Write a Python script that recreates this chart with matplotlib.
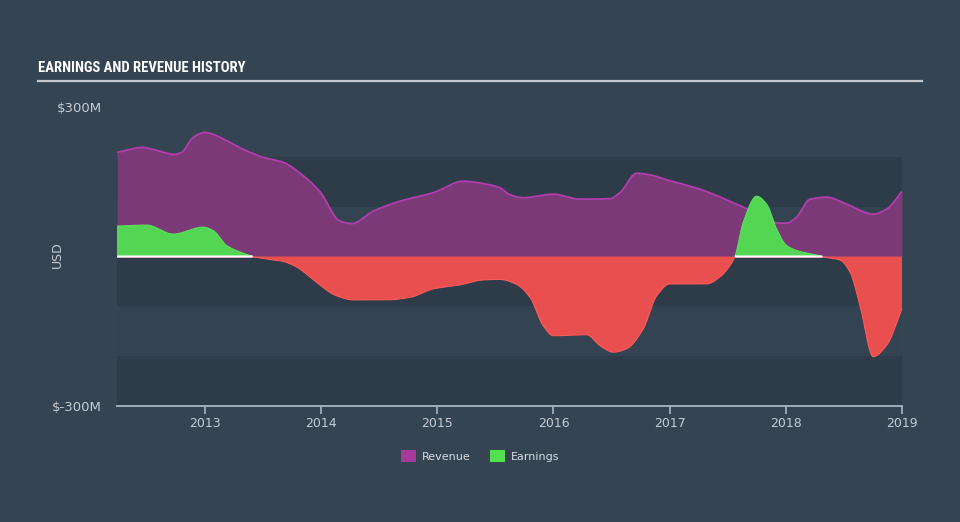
import numpy as np
import matplotlib
matplotlib.use("Agg")
import matplotlib.pyplot as plt
from matplotlib.patches import Patch

# ---------------- data (decimal years, $M) ----------------
rev_t = [2012.243, 2012.469, 2012.552, 2012.742, 2012.799, 2012.899, 2013.000, 2013.071,
         2013.215, 2013.330, 2013.502, 2013.674, 2013.846, 2013.990, 2014.162, 2014.263,
         2014.449, 2014.679, 2014.965, 2015.223, 2015.425, 2015.539, 2015.625, 2015.740,
         2015.998, 2016.228, 2016.486, 2016.572, 2016.716, 2016.802, 2017.003, 2017.261,
         2017.606, 2017.950, 2018.007, 2018.093, 2018.208, 2018.352, 2018.524, 2018.753,
         2018.868, 2019.000]
rev_v = [209, 219, 215, 205, 209, 239, 249, 245,
         229, 215, 199, 189, 162, 130, 71, 66,
         91, 111, 128, 151, 145, 138, 124, 118,
         125, 115, 116, 128, 167, 165, 152, 135,
         102, 67, 67, 79, 115, 119, 105, 85,
         95, 131]

earn_t = [2012.243, 2012.498, 2012.727, 2012.985, 2013.071, 2013.187, 2013.301, 2013.387,
          2013.413, 2013.560, 2013.674, 2013.789, 2013.904, 2013.962, 2014.134, 2014.277,
          2014.564, 2014.765, 2014.965, 2015.195, 2015.396, 2015.539, 2015.683, 2015.798,
          2015.912, 2015.998, 2016.286, 2016.400, 2016.515, 2016.630, 2016.773, 2016.888,
          2017.003, 2017.319, 2017.433, 2017.519, 2017.562, 2017.634, 2017.749, 2017.835,
          2017.921, 2018.007, 2018.121, 2018.265, 2018.352, 2018.466, 2018.552, 2018.638,
          2018.753, 2018.868, 2019.000]
earn_v = [61, 63, 45, 59, 52, 22, 9, 2,
          0, -6, -10, -21, -41, -52, -79, -87,
          -87, -82, -65, -57, -47, -46, -56, -82,
          -139, -159, -157, -179, -192, -185, -145, -79,
          -55, -55, -41, -18, 0, 69, 121, 105,
          55, 22, 10, 3, -2, -7, -31, -98,
          -201, -178, -105]

year_ticks = [2013, 2014, 2015, 2016, 2017, 2018, 2019]
y_ticks = [300, -300]
y_tick_labels = ["$300M", "$-300M"]
legend_labels = ["Revenue", "Earnings"]


def smooth(t, v, n=1500):
    """Monotone cubic (Fritsch-Carlson) rendering of the read points."""
    t = np.asarray(t, float)
    v = np.asarray(v, float)
    h = np.diff(t)
    d = np.diff(v) / h
    m = np.zeros_like(v)
    m[0], m[-1] = d[0], d[-1]
    for i in range(1, len(v) - 1):
        if d[i - 1] * d[i] <= 0:
            m[i] = 0
        else:
            w1 = 2 * h[i] + h[i - 1]
            w2 = h[i] + 2 * h[i - 1]
            m[i] = (w1 + w2) / (w1 / d[i - 1] + w2 / d[i])
    x = np.linspace(t[0], t[-1], n)
    idx = np.clip(np.searchsorted(t, x) - 1, 0, len(t) - 2)
    hh = h[idx]
    s = (x - t[idx]) / hh
    h00 = 2 * s**3 - 3 * s**2 + 1
    h10 = s**3 - 2 * s**2 + s
    h01 = -2 * s**3 + 3 * s**2
    h11 = s**3 - s**2
    y = h00 * v[idx] + h10 * hh * m[idx] + h01 * v[idx + 1] + h11 * hh * m[idx + 1]
    return x, y


BG = "#344453"
DARK = "#2e3b49"
LIGHT = "#334351"
TXT = "#c8ccd1"
REV_FILL = "#7b3a77"
REV_LINE = "#b23dac"
GREEN = "#52d653"
RED = "#ea4f50"

fig = plt.figure(figsize=(9.6, 5.22), dpi=100, facecolor=BG)
ax = fig.add_axes([117 / 960, 1 - 406 / 522, 785 / 960, 299 / 522])
ax.set_facecolor(BG)

ax.set_xlim(2012.243, 2019.0)
ax.set_ylim(-300, 300)

# bands
bands = [(100, 200, DARK), (0, 100, LIGHT), (-100, 0, DARK), (-200, -100, LIGHT), (-300, -200, DARK)]
for lo, hi, c in bands:
    ax.axhspan(lo, hi, color=c, lw=0, zorder=0)

# revenue
rx, ry = smooth(rev_t, rev_v)
ax.fill_between(rx, 0, ry, color=REV_FILL, lw=0, zorder=2)
ax.plot(rx, ry, color=REV_LINE, lw=1.3, zorder=3, solid_capstyle="butt")

# earnings
ex, ey = smooth(earn_t, earn_v)
ax.fill_between(ex, 0, ey, where=ey >= 0, interpolate=True, color=GREEN, lw=0, zorder=4)
ax.fill_between(ex, 0, ey, where=ey <= 0, interpolate=True, color=RED, lw=0, zorder=4)
ax.plot(ex, np.where(ey < 0, np.nan, ey), color="#5de05e", lw=0.8, zorder=5)
ax.plot(ex, np.where(ey > 0, np.nan, ey), color="#ff5a5a", lw=0.8, zorder=5)
ax.axhline(0, color="#c0607a", lw=0.6, zorder=3.5)
ax.plot(ex, np.where(ey >= 0, 0.0, np.nan), color="white", lw=1.5, zorder=6,
        solid_capstyle="butt")

# axes styling
for s in ["top", "right", "left"]:
    ax.spines[s].set_visible(False)
ax.spines["bottom"].set_color("#a9b5c2")
ax.spines["bottom"].set_linewidth(1.3)
ax.spines["bottom"].set_zorder(7)

ax.set_xticks(year_ticks)
ax.set_xticklabels([str(y) for y in year_ticks])
ax.tick_params(axis="x", colors="#a9b5c2", length=6, width=1.2, pad=2,
               labelcolor=TXT, labelsize=9)
ax.set_yticks(y_ticks)
ax.set_yticklabels(y_tick_labels)
ax.tick_params(axis="y", length=0, pad=11, labelcolor=TXT, labelsize=9.5)

fig.text(57 / 960, 1 - 255 / 522, "USD", rotation=90, color=TXT, fontsize=9,
         ha="center", va="center")

# title
fig.text(38 / 960, 1 - 68 / 522, "EARNINGS AND REVENUE HISTORY",
         family=["Roboto Condensed", "Roboto", "DejaVu Sans"], fontweight="bold",
         color="white", fontsize=10.5, ha="left", va="center")
fig.add_artist(plt.Line2D([38 / 960, 922 / 960], [1 - 81 / 522, 1 - 81 / 522],
                          color="#c3c7cc", lw=1.6, transform=fig.transFigure))

# legend
handles = [Patch(facecolor="#a8389c", edgecolor="none"),
           Patch(facecolor="#52e052", edgecolor="none")]
leg = fig.legend(handles, legend_labels, loc="center", bbox_to_anchor=(0.5, 1 - 456 / 522),
                 ncol=2, frameon=False, handlelength=1.4, handleheight=1.3,
                 columnspacing=1.7, handletextpad=0.5, fontsize=8)
for t in leg.get_texts():
    t.set_color("#d8dce0")

fig.savefig("out.png", dpi=100, facecolor=BG)
